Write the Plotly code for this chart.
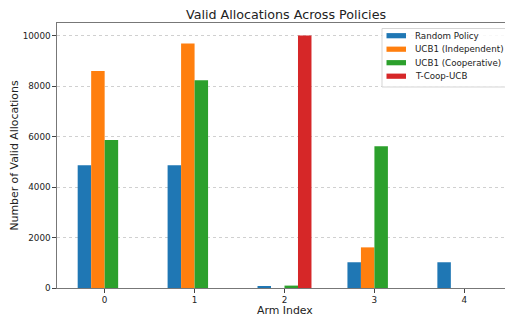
import plotly.graph_objects as go

arms = [0, 1, 2, 3, 4]
random_policy = [4860, 4860, 55, 1020, 1020]
ucb1_independent = [8600, 9685, 0, 1610, 0]
ucb1_cooperative = [5860, 8230, 95, 5620, 0]
t_coop_ucb = [0, 0, 10000, 0, 0]

series = [
    ("Random Policy", random_policy, "#1f77b4"),
    ("UCB1 (Independent)", ucb1_independent, "#ff7f0e"),
    ("UCB1 (Cooperative)", ucb1_cooperative, "#2ca02c"),
    ("T-Coop-UCB", t_coop_ucb, "#d62728"),
]

# the page body has an 8px default margin, so the figure is sized to fit
OFF = 8
W, H = 505, 308
L, R, T, B = 49, 1, 15, 28
PW, PH = W - L - R, H - T - B


def px(x):
    return (x - OFF - L) / PW


def py(y):
    return (H - B - (y - OFF)) / PH


fig = go.Figure()
for name, vals, color in series:
    fig.add_trace(go.Bar(x=arms, y=vals, name=name, showlegend=False,
                         marker=dict(color=color, line=dict(width=0))))

font = "DejaVu Sans"
shapes = []
annotations = []
shapes.append(dict(type="rect", xref="paper", yref="paper",
                   x0=px(382), x1=px(509.5), y0=py(87), y1=py(28.5),
                   line=dict(color="#d5d5d5", width=1), fillcolor="rgba(255,255,255,0.85)",
                   layer="above"))
for i, (name, vals, color) in enumerate(series):
    cy = 35.7 + i * 13.5
    shapes.append(dict(type="rect", xref="paper", yref="paper",
                       x0=px(386.5), x1=px(406), y0=py(cy + 2.6), y1=py(cy - 2.6),
                       line=dict(width=0), fillcolor=color, layer="above"))
    annotations.append(dict(text=name, xref="paper", yref="paper", x=px(412.5), y=py(cy),
                            xanchor="left", yanchor="middle", showarrow=False,
                            font=dict(size=8.7, family=font, color="#222")))
# x-axis title
annotations.append(dict(text="Arm Index", xref="paper", yref="paper", x=px(284.5), y=py(310),
                        xanchor="center", yanchor="middle", showarrow=False, borderpad=0,
                        font=dict(size=10.9, family=font, color="#222")))

fig.update_layout(
    width=W, height=H,
    margin=dict(l=L, r=R, t=T, b=B),
    paper_bgcolor="white", plot_bgcolor="white",
    barmode="group", bargap=0.4, bargroupgap=0,
    font=dict(family=font, size=9, color="#222"),
    title=dict(text="Valid Allocations Across Policies", x=(286 - OFF) / W, xanchor="center",
               y=1 - (14.5 - OFF) / H, yanchor="middle",
               font=dict(size=12.7, family=font, color="#222")),
    showlegend=False,
    shapes=shapes,
    annotations=annotations,
)
fig.update_xaxes(
    range=[-0.53, 4.53], tickmode="array", tickvals=arms, ticktext=[str(a) for a in arms],
    showgrid=False, zeroline=False, showline=True, linecolor="#777", linewidth=1.2, mirror=True,
    ticks="outside", ticklen=3.5, tickcolor="#444", tickfont=dict(size=8.8), automargin=False,
)
fig.update_yaxes(
    range=[0, 10500], tickvals=[0, 2000, 4000, 6000, 8000, 10000], tickformat="d",
    showgrid=True, gridcolor="#d0d0d0", griddash="dot", gridwidth=0.8, zeroline=False,
    showline=True, linecolor="#777", linewidth=1.2, mirror=True,
    ticks="outside", ticklen=3.5, tickcolor="#444", tickfont=dict(size=8.8), automargin=False,
    title=dict(text="Number of Valid Allocations", font=dict(size=10.9), standoff=8),
)
fig.write_html("out.html")
